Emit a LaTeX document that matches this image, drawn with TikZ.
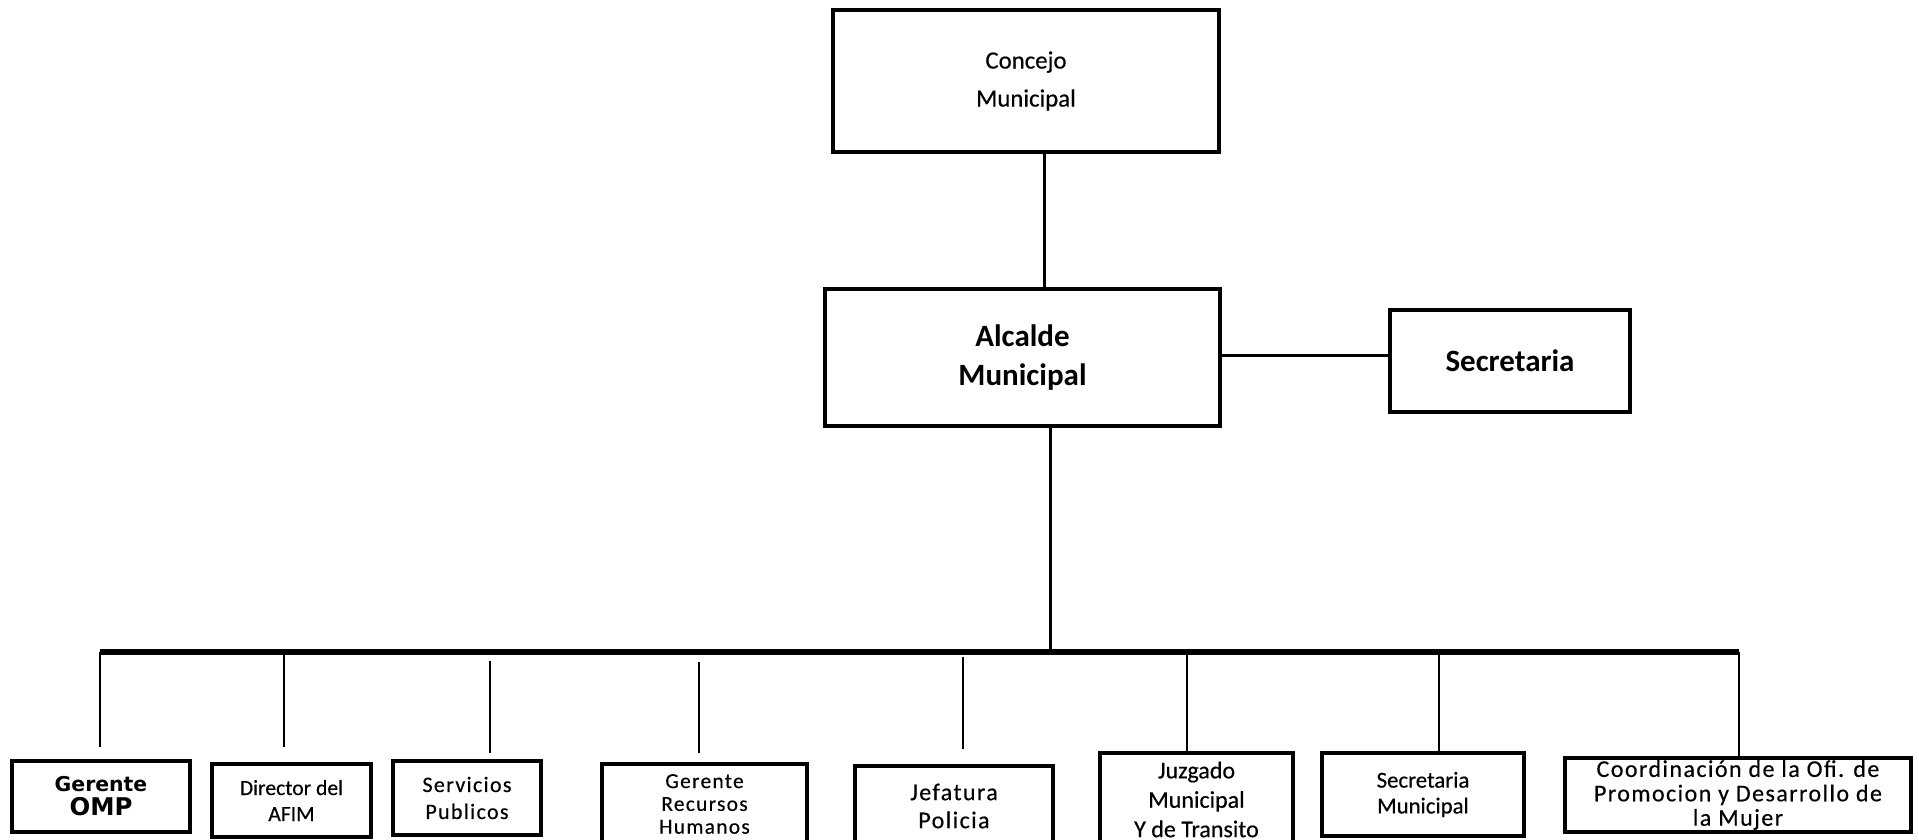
\documentclass[tikz,border=0pt]{standalone}
\usepackage{fontspec}
\setmainfont{Carlito}
\newfontfamily\verd{DejaVu Sans}
\newfontfamily\wide[LetterSpace=6,FakeBold=0.4]{Carlito}
\newfontfamily\heavy[FakeBold=0.4]{Carlito}

\begin{document}
\begin{tikzpicture}[x=0.5pt, y=-0.5pt,
    box/.style={draw, line width=2pt, align=center, inner sep=0pt},
    link/.style={line width=1.5pt},
    drop/.style={line width=1pt}]
    \useasboundingbox (0,0) rectangle (1919,840);

    % Council
    \node[box, minimum width=193pt, minimum height=71pt, font=\heavy\fontsize{12.4}{19}\selectfont] (concejo) at (1026,81) {Concejo\\Municipal};

    % Mayor and secretary
    \node[box, minimum width=197.5pt, minimum height=68.5pt, font=\bfseries\fontsize{15.5}{19.5}\selectfont] (alcalde) at (1022.5,357.5) {Alcalde\\Municipal};
    \node[box, minimum width=120pt, minimum height=51pt, font=\bfseries\fontsize{15.5}{19.5}\selectfont] (secretaria) at (1510,361) {Secretaria};

    % Departments
    \node[box, minimum width=89pt, minimum height=35.5pt, font=\verd\bfseries] (omp) at (101,796.5) {\fontsize{10.2}{14.7}\selectfont Gerente\\\fontsize{12.2}{14.7}\selectfont OMP};
    \node[box, minimum width=79.5pt, minimum height=36.5pt, font=\heavy\fontsize{10.8}{13}\selectfont] (afim) at (291.5,800.5) {Director del\\AFIM};
    \node[box, minimum width=74pt, minimum height=37pt, font=\wide\fontsize{11}{13.5}\selectfont] (servicios) at (467,798) {Servicios\\Publicos};
    \node[box, minimum width=102.5pt, minimum height=40pt, font=\wide\fontsize{10.7}{11.4}\selectfont] (rrhh) at (704.5,804) {Gerente\\Recursos\\Humanos};
    \node[box, minimum width=99pt, minimum height=40pt, font=\wide\fontsize{12}{14}\selectfont] (policia) at (954,806) {Jefatura\\Policia};
    \node[box, minimum width=96.5pt, minimum height=46.5pt, font=\heavy\fontsize{12}{14.7}\selectfont] (juzgado) at (1196.5,799.5) {Juzgado\\Municipal\\Y de Transito};
    \node[box, minimum width=101pt, minimum height=41.5pt, font=\heavy\fontsize{11.4}{12.9}\selectfont] (secmun) at (1423,794.5) {Secretaria\\Municipal};
    \node[box, minimum width=173pt, minimum height=37pt, font=\wide\fontsize{12}{12.2}\selectfont] (mujer) at (1738,795) {Coordinación de la Ofi. de\\Promocion y Desarrollo de\\la Mujer};

    % Bus line
    \coordinate (busL) at (100,652);
    \coordinate (busR) at (1739,652);
    \coordinate (busM) at (1050,652);

    % Connectors
    \draw[link] ([xshift=9pt]concejo.south) -- ([xshift=9pt]concejo.south |- alcalde.north);
    \draw[link] ([xshift=-2pt,yshift=1.25pt]alcalde.east) -- ([yshift=1.25pt]alcalde.east -| secretaria.west);
    \draw[link] ([xshift=13.75pt]alcalde.south) -- (busM);
    \draw[line width=3pt] (busL) -- (busR);

    % Drops to departments
    \draw[drop] (100,652) -- ([yshift=6pt]omp.north -| 100,0);
    \draw[drop] (284,652) -- ([yshift=7.5pt]afim.north -| 284,0);
    \draw[drop] (490,661) -- ([yshift=3pt]servicios.north -| 490,0);
    \draw[drop] (699,662) -- ([yshift=4.5pt]rrhh.north -| 699,0);
    \draw[drop] (963,657) -- ([yshift=7.5pt]policia.north -| 963,0);
    \draw[drop] (1187,652) -- (juzgado.north -| 1187,0);
    \draw[drop] (1439,652) -- (secmun.north -| 1439,0);
    \draw[drop] (1739,652) -- (mujer.north -| 1739,0);
\end{tikzpicture}
\end{document}
